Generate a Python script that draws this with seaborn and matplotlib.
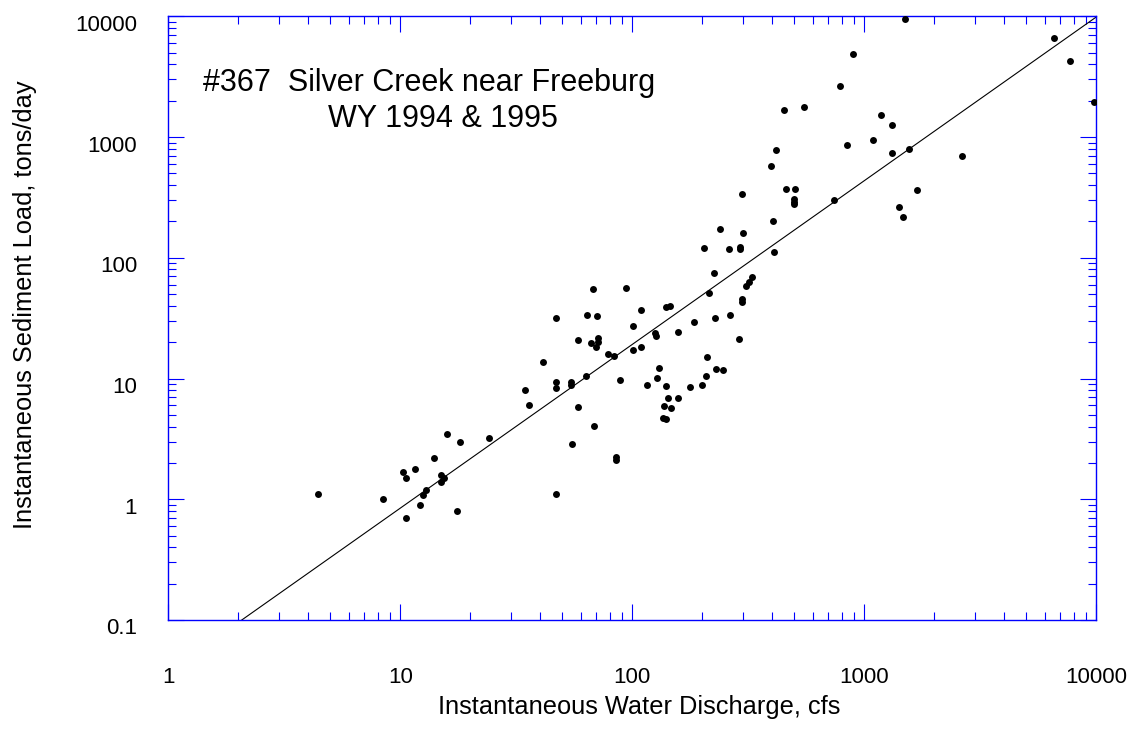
import numpy as np
import pandas as pd
import matplotlib
matplotlib.use("Agg")
import matplotlib.pyplot as plt
import matplotlib.transforms as mtransforms
from matplotlib.ticker import LogLocator, NullFormatter
import seaborn as sns

# ---------------- data ----------------
discharge_cfs = [
    4.4, 8.4, 10.6, 10.25, 10.6, 11.55, 12.1, 12.5, 12.9, 13.95,
    14.95, 15.45, 14.95, 15.9, 18.05, 17.5, 24.2, 36.0, 34.5, 41.4,
    47.1, 47.1, 47.1, 47.0, 54.4, 54.4, 55.1, 58.6, 58.5, 63.1,
    63.5, 67.6, 70.1, 66.7, 69.7, 71.5, 71.5, 68.5, 78.5, 83.3,
    88.7, 85.2, 85.2, 94.4, 100.6, 100.6, 108.5, 109.2, 115.6, 124.7,
    126.0, 130.2, 128.4, 139.6, 145.7, 140.4, 142.4, 137.6, 146.2, 135.5,
    140.4, 157.3, 156.8, 177.7, 183.6, 198.9, 207.6, 210.4, 213.2, 230.1,
    246.6, 228.0, 264.4, 288.2, 295.8, 296.0, 309.0, 320.0, 326.6, 224.8,
    204.2, 238.7, 261.8, 291.8, 292.0, 300.0, 295.8, 406.0, 410.0, 458.0,
    502.0, 497.0, 497.0, 497.0, 1500.0, 6560.0, 7710.0, 9750.0, 891.0, 785.0,
    451.0, 551.0, 1177.0, 1316.0, 1090.0, 1316.0, 1553.0, 2638.0, 842.0, 416.0,
    397.0, 1687.0, 1409.0, 1462.0, 740.0,
]
sediment_tons_day = [
    1.1, 1.0, 0.70, 1.69, 1.50, 1.79, 0.89, 1.09, 1.20, 2.18,
    1.60, 1.50, 1.40, 3.50, 2.99, 0.80, 3.23, 6.05, 7.96, 13.7,
    31.6, 9.27, 8.27, 1.10, 9.44, 8.9, 2.88, 5.8, 20.9, 10.5,
    33.9, 55.3, 32.9, 19.6, 18.4, 21.6, 19.9, 4.08, 16.0, 15.4,
    9.7, 2.22, 2.10, 56.6, 27.3, 17.1, 36.6, 18.3, 8.87, 23.8,
    22.6, 12.3, 10.1, 39.4, 40.2, 8.65, 6.96, 5.87, 5.69, 4.70,
    4.61, 24.5, 6.96, 8.49, 29.6, 8.87, 10.4, 15.1, 51.5, 12.0,
    11.8, 32.0, 33.7, 21.4, 45.9, 42.9, 58.5, 63.5, 69.9, 74.6,
    120.0, 174.6, 117.8, 124.0, 119.0, 160.0, 338.0, 203.0, 111.0, 370.0,
    374.0, 309.0, 292.0, 280.0, 9500.0, 6670.0, 4290.0, 1937.0, 4900.0, 2640.0,
    1690.0, 1766.0, 1528.0, 1270.0, 940.0, 740.0, 803.0, 693.0, 861.0, 777.0,
    580.0, 365.0, 263.0, 217.0, 300.0,
]

# sediment rating curve  load = a * Q ** b
rating_a = 0.0372
rating_b = 1.356

x_tick_values = [1, 10, 100, 1000, 10000]
x_tick_labels = ["1", "10", "100", "1000", "10000"]
y_tick_values = [0.1, 1, 10, 100, 1000, 10000]
y_tick_labels = ["0.1", "1", "10", "100", "1000", "10000"]

title_line1 = "#367  Silver Creek near Freeburg"
title_line2 = "WY 1994 & 1995"
x_label = "Instantaneous Water Discharge, cfs"
y_label = "Instantaneous Sediment Load, tons/day"

# ---------------- plotting ----------------
sns.set_style("ticks")
plt.rcParams["font.family"] = ["Liberation Sans", "DejaVu Sans"]

df = pd.DataFrame({"q": discharge_cfs, "load": sediment_tons_day})
line_q = np.logspace(np.log10(x_tick_values[0]), np.log10(x_tick_values[-1]), 300)
line_df = pd.DataFrame({"q": line_q, "load": rating_a * line_q ** rating_b})

fig = plt.figure(figsize=(11.35, 7.29), dpi=100)
ax = fig.add_axes([0.14828, 0.14952, 0.81762, 0.82812])
ax.set_xscale("log")
ax.set_yscale("log")

sns.lineplot(data=line_df, x="q", y="load", color="black", linewidth=0.8,
             estimator=None, sort=False, ax=ax, zorder=2)
sns.scatterplot(data=df, x="q", y="load", color="black", s=25, linewidth=0,
                ax=ax, legend=False, zorder=3)

ax.set_xlim(x_tick_values[0], x_tick_values[-1])
ax.set_ylim(y_tick_values[0], y_tick_values[-1])

ax.set_xticks(x_tick_values, labels=x_tick_labels)
ax.set_yticks(y_tick_values, labels=y_tick_labels)
for axis in (ax.xaxis, ax.yaxis):
    axis.set_minor_locator(LogLocator(base=10, subs=np.arange(2, 10)))
    axis.set_minor_formatter(NullFormatter())

ax.tick_params(axis="both", which="major", direction="in", length=11.5,
               width=0.8, color="blue", top=True, right=True,
               labelsize=16, labelcolor="black")
ax.tick_params(axis="both", which="minor", direction="in", length=5.8,
               width=0.8, color="blue", top=True, right=True)
ax.tick_params(axis="x", which="major", pad=33.5)
ax.tick_params(axis="y", which="major", pad=22.5)

for sp in ax.spines.values():
    sp.set_color("blue")
    sp.set_linewidth(1.0)
    sp.set_visible(True)

ax.set_xlabel(x_label, fontsize=18.3, color="black")
ax.set_ylabel(y_label, fontsize=18.3, color="black")
ax.xaxis.set_label_coords(0.507, -0.1245)
ax.yaxis.set_label_coords(-0.1420, 0.5218)

shift = mtransforms.ScaledTranslation(0, -0.065, fig.dpi_scale_trans)
for lbl in ax.get_yticklabels():
    lbl.set_transform(lbl.get_transform() + shift)

fig.text(203.3 / 1135, 1 - 91 / 729, title_line1, fontsize=22, ha="left",
         va="baseline", color="black")
fig.text(328.3 / 1135, 1 - 126.7 / 729, title_line2, fontsize=22, ha="left",
         va="baseline", color="black")

fig.savefig("out.png", dpi=100, facecolor="white")
